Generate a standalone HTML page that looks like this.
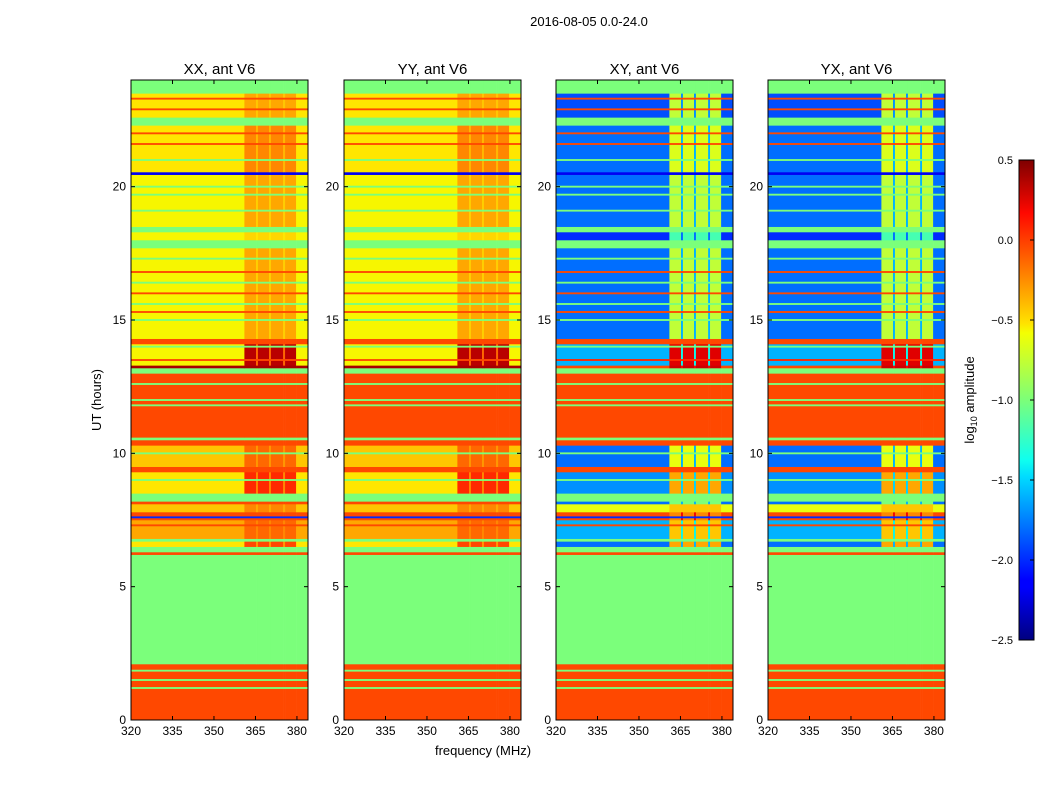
<!DOCTYPE html>
<html><head><meta charset="utf-8"><style>
body{margin:0;background:#fff;}
svg text{font-family:"Liberation Sans",sans-serif;}
</style></head><body>
<svg id="fig" width="1050" height="800" xmlns="http://www.w3.org/2000/svg">
<defs><linearGradient id="jet" x1="0" y1="1" x2="0" y2="0">
<stop offset="0" stop-color="#00007f"/><stop offset="0.11" stop-color="#0000ff"/><stop offset="0.125" stop-color="#0000ff"/>
<stop offset="0.34" stop-color="#00dbff"/><stop offset="0.375" stop-color="#0fffef"/><stop offset="0.5" stop-color="#7cff79"/>
<stop offset="0.64" stop-color="#f4ff02"/><stop offset="0.66" stop-color="#ffe200"/><stop offset="0.89" stop-color="#ff0800"/><stop offset="1" stop-color="#7f0000"/>
</linearGradient></defs>
<text x="589" y="26" font-size="13" text-anchor="middle">2016-08-05 0.0-24.0</text>
<g id="panels"></g>
<text transform="translate(101,400) rotate(-90)" font-size="13" text-anchor="middle">UT (hours)</text>
<text x="483" y="755" font-size="13" text-anchor="middle">frequency (MHz)</text>
<g>
<rect x="1019" y="160" width="15" height="480" fill="url(#jet)" stroke="#000" stroke-width="1"/>
<g id="cbticks"></g>
<text transform="translate(974,400) rotate(-90)" font-size="13" text-anchor="middle">log<tspan font-size="9" dy="3">10</tspan><tspan dy="-3"> amplitude</tspan></text>
</g>
</svg>
<script>
const panelTitles=["XX, ant V6","YY, ant V6","XY, ant V6","YX, ant V6"];
const xTicks=[320,335,350,365,380];
const yTicks=[0,5,10,15,20];
const cbTicks=[0.5,0.0,-0.5,-1.0,-1.5,-2.0,-2.5];
// segments: [startHour, endHour, xxLow, xxHigh, xyLow, xyHigh]
const segments=[
[0,2.1,0.0,0.0,0.0,0.0],[2.1,6.2,-1,-1,-1,-1],[6.2,6.3,0.0,0.0,0.0,0.0],[6.3,6.5,-1,-1,-1,-1],
[6.5,6.7,-0.5,0.0,-1.8,-0.3],[6.7,6.8,-1,-1,-1,-1],[6.8,7.5,-0.3,-0.1,-1.6,-0.4],[7.5,7.8,0.0,0.0,0.0,-0.2],
[7.8,8.1,-0.4,-0.2,-0.6,-0.4],[8.1,8.2,0.0,0.0,-1.8,-1],[8.2,8.5,-1,-1,-1,-1],[8.5,9.3,-0.5,0.1,-1.7,-0.3],
[9.3,9.5,0.0,0.0,0.0,0.0],[9.5,10.3,-0.4,-0.1,-1.8,-0.6],[10.3,10.5,0.0,0.0,0.0,0.0],[10.5,10.6,-1,-1,-1,-1],
[10.6,13.0,0.0,0.0,0.0,0.0],[13.0,13.2,-1,-1,-1,-1],[13.2,13.3,0.4,0.4,0.0,0.3],[13.3,14.1,-0.55,0.35,-1.6,0.25],
[14.1,14.3,0.0,0.0,0.0,0.0],[14.3,17.7,-0.55,-0.3,-1.8,-0.75],[17.7,18.0,-1,-1,-1,-1],[18.0,18.3,-0.55,-0.45,-2.0,-1.2],
[18.3,18.5,-1,-1,-1,-1],[18.5,20.45,-0.55,-0.3,-1.8,-0.75],[20.45,20.55,-2.2,-2.2,-2.2,-2.2],[20.55,22.3,-0.5,-0.2,-1.8,-0.65],
[22.3,22.6,-1,-1,-1,-1],[22.6,23.5,-0.5,-0.3,-1.9,-0.75],[23.5,24,-1,-1,-1,-1]
];
// thin lines: [hour, xxValue, xyValue]
const lines=[
[1.2,-1,-1],[1.5,-1,-1],[1.85,-1,-1],[11.8,-1,-1],[12.0,-1,-1],[12.6,-1,-1],
[7.3,0.0,0.0],[7.6,-2.0,-2.0],[9.0,-1,-1],[10.0,-1,-1],
[13.5,0.0,0.1],[14.0,-1,-1],[15.0,-1,-1],[15.3,0.0,0.0],[15.6,-1,-1],
[16.0,0.0,0.0],[16.4,-1,-1],[16.8,0.0,0.0],[17.3,-1,-1],[19.1,-1,-1],
[19.7,-1,-1],[20.0,-1,-1],[21.0,-1,-1],[21.6,0.0,0.0],[22.0,0.0,0.0],
[22.9,0.0,0.0],[23.3,0.0,0.0]
];
// frequency bands: [startMHz, endMHz, kind] L=low region, H=active column, G=gap
const freqBands=[[320,361,"L"],[361,365.2,"H"],[365.2,365.9,"G"],[365.9,369.9,"H"],[369.9,370.6,"G"],[370.6,375,"H"],[375,375.7,"G"],[375.7,379.7,"H"],[379.7,384,"L"]];

const PX=[131,344,556,768],PW=177,PT=80,PB=720;
function yS(h){return PB-(h/24)*(PB-PT);}
function xS(p,f){return PX[p]+(f-320)/64*PW;}
function interp(pts,t){for(let i=1;i<pts.length;i++){if(t<=pts[i][0]){const a=pts[i-1],b=pts[i];return a[1]+(b[1]-a[1])*(t-a[0])/(b[0]-a[0]);}}return pts[pts.length-1][1];}
const JR=[[0,0],[0.35,0],[0.66,1],[0.89,1],[1,0.5]],JG=[[0,0],[0.125,0],[0.375,1],[0.64,1],[0.91,0],[1,0]],JB=[[0,0.5],[0.11,1],[0.34,1],[0.65,0],[1,0]];
function jet(v){let t=(v+2.5)/3;t=Math.max(0,Math.min(1,t));
 const c=x=>Math.round(255*Math.max(0,Math.min(1,x)));
 return `rgb(${c(interp(JR,t))},${c(interp(JG,t))},${c(interp(JB,t))})`;}
const NS="http://www.w3.org/2000/svg";
const G=document.getElementById('panels');
function mk(tag,attrs,parent){const e=document.createElementNS(NS,tag);for(const k in attrs)e.setAttribute(k,attrs[k]);parent.appendChild(e);return e;}
for(let p=0;p<4;p++){
 const g=mk('g',{},G);
 
 
 const cross=p>=2;
 for(const s of segments){
  const lo=cross?s[4]:s[2],hi=cross?s[5]:s[3];
  for(const fb of freqBands){
   let v=fb[2]==="L"?lo:fb[2]==="H"?hi:(lo===hi?lo:(cross?lo+0.2:(lo+hi)/2));
   const r=mk('rect',{x:xS(p,fb[0]),y:yS(s[1]),width:xS(p,fb[1])-xS(p,fb[0])+0.3,height:yS(s[0])-yS(s[1])+0.3,fill:jet(v)},g);
   
   
  }
 }
 for(const l of lines){
  const v=cross?l[2]:l[1];
  const r=mk('rect',{x:PX[p],y:yS(l[0]+0.035),width:PW,height:yS(l[0])-yS(l[0]+0.07),fill:jet(v)},g);
  
  
 }
 const fr=mk('rect',{x:PX[p],y:PT,width:PW,height:PB-PT,fill:'none',stroke:'#000','stroke-width':1},g);
 
 
 const t=mk('text',{x:PX[p]+PW/2,y:74,'font-size':15,'text-anchor':'middle'},g);t.textContent=panelTitles[p];
 
 
 for(const f of xTicks){const x=xS(p,f);
  mk('line',{x1:x,x2:x,y1:PB,y2:PB-4,stroke:'#000'},g);mk('line',{x1:x,x2:x,y1:PT,y2:PT+4,stroke:'#000'},g);
  const tx=mk('text',{x:x,y:PB+15,'font-size':12,'text-anchor':'middle'},g);tx.textContent=f;
  
  }
 for(const h of yTicks){const y=yS(h);
  mk('line',{x1:PX[p],x2:PX[p]+4,y1:y,y2:y,stroke:'#000'},g);mk('line',{x1:PX[p]+PW,x2:PX[p]+PW-4,y1:y,y2:y,stroke:'#000'},g);
  const ty=mk('text',{x:PX[p]-5,y:y+4,'font-size':12,'text-anchor':'end'},g);ty.textContent=h;
  
  }
}
const CB=document.getElementById('cbticks');
for(const v of cbTicks){const y=160+(0.5-v)/3*480;
 mk('line',{x1:1030,x2:1034,y1:y,y2:y,stroke:'#000'},CB);
 const t=mk('text',{x:1013,y:y+4,'font-size':11,'text-anchor':'end'},CB);t.textContent=(v<0?'\u2212':'')+Math.abs(v).toFixed(1);
 
 }
</script>
</body></html>
